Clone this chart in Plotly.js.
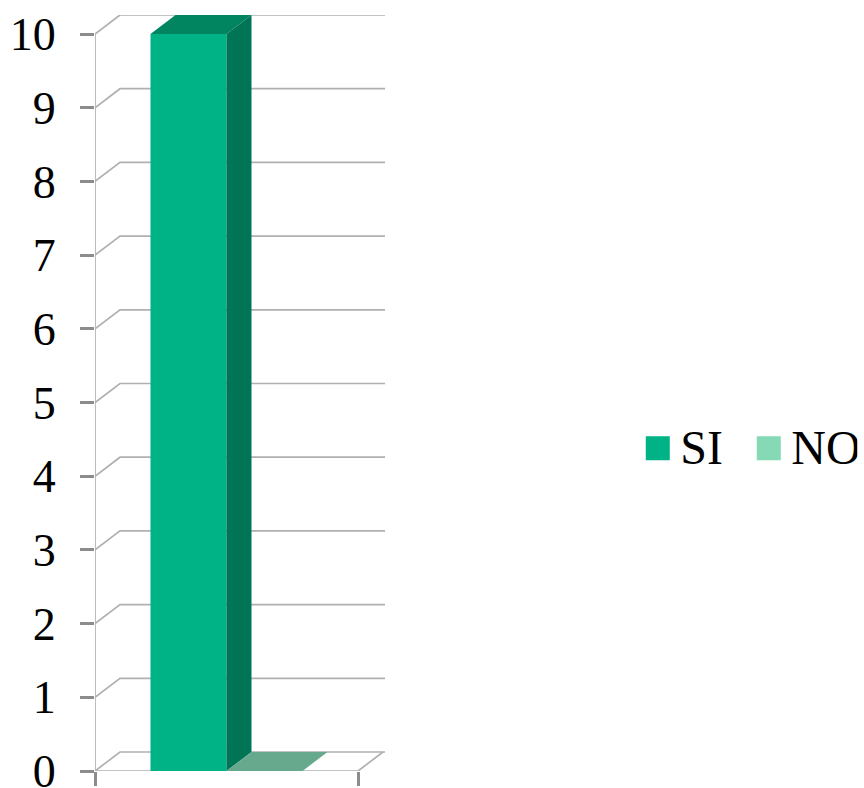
<!DOCTYPE html>
<html><head><meta charset="utf-8">
<script src="https://cdn.plot.ly/plotly-3.0.0.min.js"></script>
<style>html,body{margin:0;padding:0;background:#fff}</style>
</head><body><div id="chart" style="width:864px;height:788px"></div>
<script>
const categories = [0.5];
const seriesNames = ['SI','NO'];
const siValues = [10];
const noValues = [0];
const yTicks = [0,1,2,3,4,5,6,7,8,9,10];

// oblique projection of the fake 3D box, in axis units
const depthX = 25/263, depthY = 19/73.7;
const xMax = 290/263, yMax = 756/73.7;
const barW = 76/263;
const barLeft = categories[0] - barW;

const serif = '"Liberation Serif", serif';
const gridStyle = {color:'#b0b0b0', width:1.7};
const traces = [];

function line(xs, ys){
  traces.push({type:'scatter',mode:'lines',x:xs,y:ys,line:gridStyle,showlegend:false,hoverinfo:'skip',cliponaxis:false});
}
yTicks.forEach(t=>line([0,depthX,xMax],[t,t+depthY,t+depthY]));
line([0,0],[0,yTicks[yTicks.length-1]]);
line([0,1,1+depthX],[0,0,depthY]);

traces.push({type:'bar',name:seriesNames[0],x:categories,y:siValues,xaxis:'x2',yaxis:'y2',marker:{color:'#00b386'},hoverinfo:'y'});
traces.push({type:'bar',name:seriesNames[1],x:categories,y:noValues,xaxis:'x2',yaxis:'y2',marker:{color:'#85d9b5'},hoverinfo:'y'});

function poly(xs, ys, color){
  traces.push({type:'scatter',mode:'lines',x:xs,y:ys,xaxis:'x2',yaxis:'y2',fill:'toself',fillcolor:color,line:{width:0,color:color},showlegend:false,hoverinfo:'skip',cliponaxis:false});
}
const si = siValues[0], no = noValues[0];
const r1 = barLeft+barW, r2 = r1+barW;
poly([barLeft,r1,r1+depthX,barLeft+depthX,barLeft],[si,si,si+depthY,si+depthY,si],'#008560');
poly([r1,r1+depthX,r1+depthX,r1,r1],[0,depthY,si+depthY,si,0],'#007555');
poly([r1,r2,r2+depthX,r1+depthX,r1],[no,no,no+depthY,no+depthY,no],'#66a98c');

const layout = {
  width:864,height:788,
  paper_bgcolor:'#fff',plot_bgcolor:'#fff',
  margin:{l:95,r:479,t:15,b:17,autoexpand:false},
  barmode:'group',bargap:0.422,
  font:{family:serif,color:'#000'},
  xaxis:{range:[0,xMax],tickvals:[0,1],ticktext:['',''],ticks:'outside',ticklen:14,tickwidth:3,tickcolor:'#8c8c8c',showgrid:false,zeroline:false,showline:false,fixedrange:true},
  yaxis:{range:[0,yMax],tickvals:yTicks,ticks:'outside',ticklen:14,tickwidth:3,tickcolor:'#8c8c8c',showgrid:false,zeroline:false,showline:false,ticklabeloverflow:'allow',ticklabelstandoff:15,tickfont:{family:serif,size:46,color:'#000'},fixedrange:true},
  xaxis2:{range:[0,xMax],overlaying:'x',visible:false,fixedrange:true},
  yaxis2:{range:[0,yMax],overlaying:'y',visible:false,fixedrange:true},
  showlegend:true,
  legend:{orientation:'h',x:1.863,xanchor:'left',y:0.4305,yanchor:'middle',font:{family:serif,size:48,color:'#000'},itemwidth:35,entrywidth:61,entrywidthmode:'pixels',bgcolor:'rgba(0,0,0,0)',traceorder:'normal'}
};
Plotly.newPlot('chart',traces,layout,{displayModeBar:false,staticPlot:true}).then(gd=>{
  gd.querySelectorAll('.legend .legendpoints path').forEach(p=>p.setAttribute('transform',(p.getAttribute('transform')||'')+' translate(0,3) scale(2)'));
});
</script></body></html>
